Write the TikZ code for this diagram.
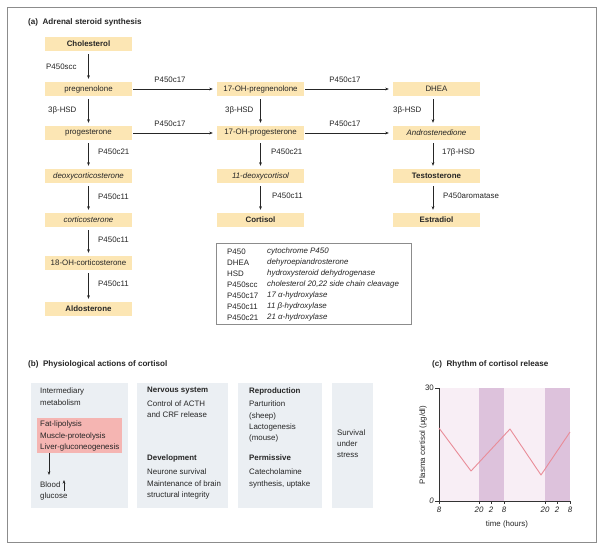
\documentclass[tikz,border=0pt]{standalone}
\usepackage{fontspec}
\setmainfont{Liberation Sans}
\usetikzlibrary{arrows.meta}
\definecolor{boxfill}{HTML}{FCE6B4}
\definecolor{panel}{HTML}{EBEFF3}
\definecolor{pinkbox}{HTML}{F5B5B2}
\definecolor{framec}{HTML}{8C8C8C}
\definecolor{bandlight}{HTML}{F8EEF5}
\definecolor{banddark}{HTML}{DDC2DC}
\definecolor{curvec}{HTML}{E98C98}
\newcommand\fsz{\fontsize{7.9}{9.2}\selectfont}
\begin{document}
\begin{tikzpicture}[x=1pt,y=-1pt,
  every node/.style={font=\fsz, inner sep=0pt, text=black!85},
  stepbox/.style={fill=boxfill, minimum width=87pt, minimum height=14pt},
  bstep/.style={stepbox, font=\fsz\bfseries},
  istep/.style={stepbox, font=\fsz\itshape},
  arr/.style={-{Stealth[length=3.6pt,width=2.8pt]}, line width=0.6pt, draw=black!85},
  lbl/.style={anchor=west},
  ttl/.style={anchor=west, font=\fontsize{8.1}{9.5}\selectfont\bfseries},
  hd/.style={anchor=west, font=\fsz\bfseries},
  panelbox/.style={fill=panel, anchor=north west, minimum height=125pt},
  tick/.style={line width=0.6pt, draw=black!80}]
\useasboundingbox (0,0) rectangle (600,547);
\fill[white] (0,0) rectangle (600,547);
\draw[framec, line width=1pt] (7,7) rectangle (596,542);

% ---------- (a)
\node[ttl] (ta) at (28,22) {(a)\ \ Adrenal steroid synthesis};

\node[bstep] (chol) at (88.5,44) {Cholesterol};
\node[stepbox] (preg) at (88.5,89) {pregnenolone};
\node[stepbox] (prog) at (88.5,133) {progesterone};
\node[istep] (doc) at (88.5,176) {deoxycorticosterone};
\node[istep] (cort) at (88.5,220) {corticosterone};
\node[stepbox] (ohc) at (88.5,263) {18-OH-corticosterone};
\node[bstep] (ald) at (88.5,309) {Aldosterone};

\node[stepbox] (ohpreg) at (260.5,89) {17-OH-pregnenolone};
\node[stepbox] (ohprog) at (260.5,133) {17-OH-progesterone};
\node[istep] (dcl) at (260.5,176) {11-deoxycortisol};
\node[bstep] (cortisol) at (260.5,220) {Cortisol};

\node[stepbox] (dhea) at (436.5,89) {DHEA};
\node[istep] (andro) at (436.5,133) {Androstenedione};
\node[bstep] (testo) at (436.5,176) {Testosterone};
\node[bstep] (estra) at (436.5,220) {Estradiol};

\foreach \a/\b in {chol/preg,preg/prog,prog/doc,doc/cort,cort/ohc,ohc/ald,ohpreg/ohprog,ohprog/dcl,dcl/cortisol}
  \draw[arr, shorten <=3pt, shorten >=3pt] (\a.south) -- (\b.north);
\foreach \a/\b in {dhea/andro,andro/testo,testo/estra}
  \draw[arr, shorten <=3pt, shorten >=3pt] ([xshift=-3.5pt]\a.south) -- ([xshift=-3.5pt]\b.north);
\foreach \a/\b in {preg/ohpreg,prog/ohprog,ohpreg/dhea,ohprog/andro}
  \draw[arr, shorten <=1pt, shorten >=4pt] (\a.east) -- (\b.west);

\node[lbl] (l1) at (46,67) {P450scc};
\node[lbl] (l2) at (48,110) {3β-HSD};
\node[lbl] (l3) at (98,152) {P450c21};
\node[lbl] (l4) at (98,197) {P450c11};
\node[lbl] (l5) at (98,240) {P450c11};
\node[lbl] (l6) at (98,284) {P450c11};
\node[lbl] (l7) at (225,110) {3β-HSD};
\node[lbl] (l8) at (271,152) {P450c21};
\node[lbl] (l9) at (272,196) {P450c11};
\node[lbl] (l10) at (393,110) {3β-HSD};
\node[lbl] (l11) at (442,152) {17β-HSD};
\node[lbl] (l12) at (443,196) {P450aromatase};
\node (h1) at (170,80) {P450c17};
\node (h2) at (345,80) {P450c17};
\node (h3) at (170,124) {P450c17};
\node (h4) at (345,124) {P450c17};

% legend
\node[draw=framec, line width=0.6pt, anchor=north west, minimum width=195pt, minimum height=81pt] (legend) at (216,243) {};
\foreach \k/\v [count=\i] in {P450/cytochrome P450, DHEA/dehyroepiandrosterone, HSD/hydroxysteroid dehydrogenase, P450scc/{cholesterol 20,22 side chain cleavage}, P450c17/17 α-hydroxylase, P450c11/11 β-hydroxylase, P450c21/21 α-hydroxylase}{
  \node[lbl] (lk\i) at (227,{241+10.9*\i}) {\k};
  \node[lbl, font=\fsz\itshape] (lv\i) at (267,{241+10.9*\i}) {\v};
}

% ---------- (b)
\node[ttl] (tb) at (28,364) {(b)\ \ Physiological actions of cortisol};
\node[panelbox, minimum width=97pt] (p1) at (31,383) {};
\node[panelbox, minimum width=91pt] (p2) at (137,383) {};
\node[panelbox, minimum width=84pt] (p3) at (238,383) {};
\node[panelbox, minimum width=41pt] (p4) at (332,383) {};
\node[fill=pinkbox, anchor=north west, minimum width=85pt, minimum height=35pt] (pink) at (37,418) {};

\node[lbl] (b1) at (40,391) {Intermediary};
\node[lbl] (b2) at (40,403) {metabolism};
\node[lbl] (b3) at (40,424) {Fat-lipolysis};
\node[lbl] (b4) at (40,436) {Muscle-proteolysis};
\node[lbl] (b5) at (40,447) {Liver-gluconeogenesis};
\node[lbl] (b6) at (40,485) {Blood};
\node[lbl] (b7) at (40,496) {glucose};
\coordinate (bg) at (49,475);
\draw[arr] (pink.south -| bg) -- (bg);
\coordinate (up1) at (64,491);
\coordinate (up2) at (64,480);
\draw[arr] (up1) -- (up2);

\node[hd] (c1) at (147,391) {Nervous system};
\node[lbl] (c2) at (147,404) {Control of ACTH};
\node[lbl] (c3) at (147,415) {and CRF release};
\node[hd] (c4) at (147,458) {Development};
\node[lbl] (c5) at (147,472) {Neurone survival};
\node[lbl] (c6) at (147,484) {Maintenance of brain};
\node[lbl] (c7) at (147,495) {structural integrity};

\node[hd] (d1) at (249,391) {Reproduction};
\node[lbl] (d2) at (249,404) {Parturition};
\node[lbl] (d3) at (249,416) {(sheep)};
\node[lbl] (d4) at (249,427) {Lactogenesis};
\node[lbl] (d5) at (249,438) {(mouse)};
\node[hd] (d6) at (249,458) {Permissive};
\node[lbl] (d7) at (249,472) {Catecholamine};
\node[lbl] (d8) at (249,484) {synthesis, uptake};

\node[lbl] (e1) at (337,433) {Survival};
\node[lbl] (e2) at (337,444) {under};
\node[lbl] (e3) at (337,455) {stress};

% ---------- (c)
\node[ttl] (tc) at (432,364) {(c)\ \ Rhythm of cortisol release};
\fill[bandlight] (439,388) rectangle (570,501);
\fill[banddark] (479,388) rectangle (504,501);
\fill[banddark] (545,388) rectangle (570,501);
\draw[tick] (439,388) -- (439,501) -- (570,501);
\draw[tick] (435,388) -- (439,388);
\draw[tick] (435,501) -- (439,501);
\foreach \x/\t in {439/8,479/20,491/2,504/8,545/20,557/2,570/8}{
  \draw[tick] (\x,501) -- (\x,504);
  \node[font=\fsz\itshape] at (\x,510) {\t};
}
\node[anchor=east] (y30) at (434,388) {30};
\node[anchor=east, font=\fsz\itshape] (y0) at (434,501) {0};
\node (xl) at (507,524) {time (hours)};
\node[rotate=90] (yl) at (423,445) {Plasma cortisol (μg/dl)};
\draw[curvec, line width=0.9pt, line join=round] (439,428) -- (471,471) -- (510,429) -- (541,475) -- (570,432);
\end{tikzpicture}
\end{document}
